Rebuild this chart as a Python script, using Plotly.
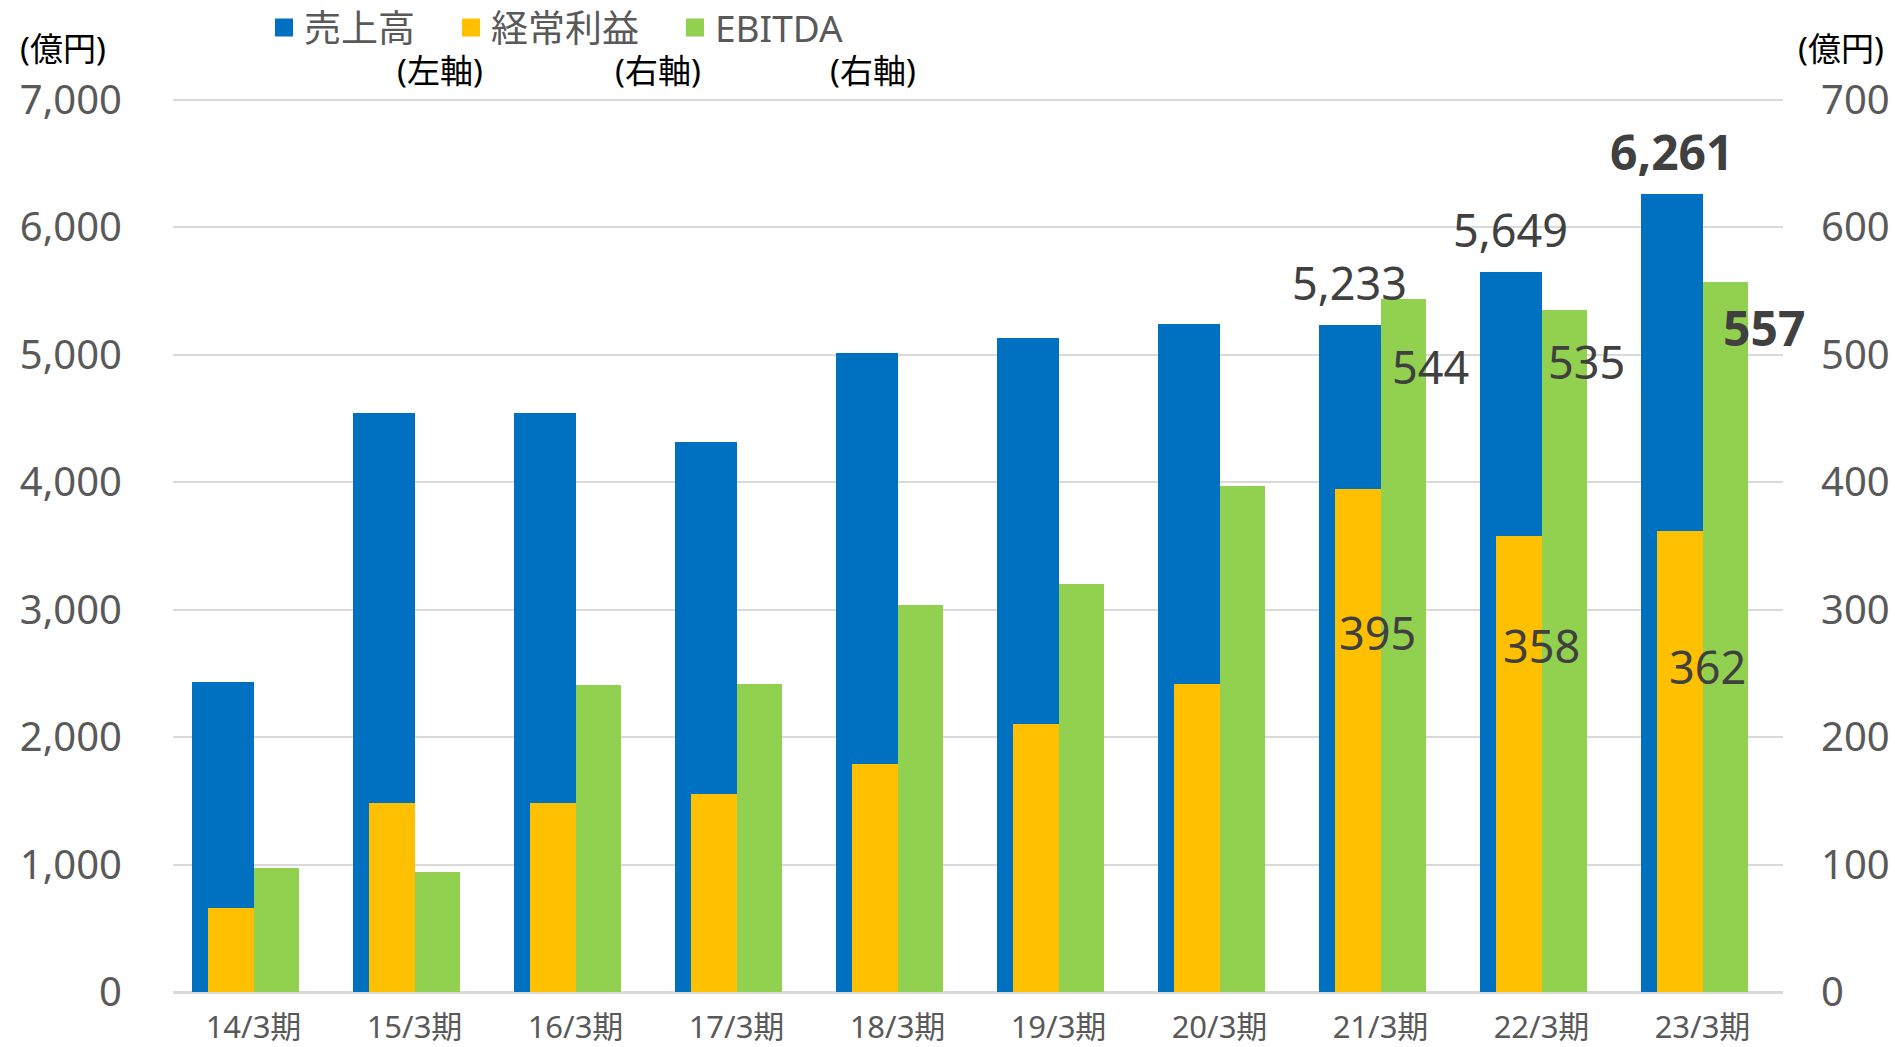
import plotly.graph_objects as go

# ---- data ----
categories = ["14/3期", "15/3期", "16/3期", "17/3期", "18/3期",
              "19/3期", "20/3期", "21/3期", "22/3期", "23/3期"]
sales = [2433, 4545, 4545, 4317, 5016, 5133, 5240, 5233, 5649, 6261]          # 売上高 (左軸)
ordinary_profit = [66, 148, 148, 155, 179, 210, 242, 395, 358, 362]            # 経常利益 (右軸)
ebitda = [97, 94, 241, 242, 304, 320, 397, 544, 535, 557]                      # EBITDA (右軸)
series_names = ["売上高", "経常利益", "EBITDA"]
axis_notes = ["(左軸)", "(右軸)", "(右軸)"]
unit_label = "(億円)"
left_ticks = [0, 1000, 2000, 3000, 4000, 5000, 6000, 7000]
right_ticks = [0, 100, 200, 300, 400, 500, 600, 700]
labeled_idx = [7, 8, 9]

# ---- style ----
W, H = 1895, 1047
ML, MR, MT, MB = 173, 112, 100, 55
PW, PH = W - ML - MR, H - MT - MB
FONT = "Noto Sans, Noto Sans CJK JP, sans-serif"
BLUE, ORANGE, GREEN = "#0070C0", "#FFC000", "#92D050"
COLORS = [BLUE, ORANGE, GREEN]
GRID = "#d9d9d9"
TICK_COLOR = "#595959"
LABEL_COLOR = "#404040"
x = list(range(len(categories)))


def px_x(p):
    return (p - ML) / PW


def px_y(p):
    return (MT + PH - p) / PH


fig = go.Figure()
fig.add_trace(go.Bar(x=x, y=sales, name=series_names[0], width=0.385, offset=-0.385,
                     marker=dict(color=BLUE, line=dict(width=0)), yaxis="y", showlegend=False))
fig.add_trace(go.Bar(x=x, y=ordinary_profit, name=series_names[1], width=0.28, offset=-0.28,
                     marker=dict(color=ORANGE, line=dict(width=0)), yaxis="y2", showlegend=False))
fig.add_trace(go.Bar(x=x, y=ebitda, name=series_names[2], width=0.28, offset=0,
                     marker=dict(color=GREEN, line=dict(width=0)), yaxis="y2", showlegend=False))

# legend entries (square keys)
for k, (nm, col) in enumerate(zip(series_names, COLORS)):
    fig.add_trace(go.Scatter(x=[None], y=[None], mode="markers", name=nm,
                             marker=dict(symbol="square", size=16, color=col,
                                         line=dict(width=2, color=col)),
                             legend="legend" if k == 0 else f"legend{k + 1}",
                             showlegend=True, hoverinfo="skip"))

annotations = []
# unit labels
for cx in (63, 1841):
    annotations.append(dict(x=px_x(cx), y=px_y(48), xref="paper", yref="paper", text=unit_label,
                            showarrow=False, font=dict(family=FONT, size=33, color="#000000"),
                            xanchor="center", yanchor="middle"))
# axis notes under legend
for cx, t in zip((440, 658, 873), axis_notes):
    annotations.append(dict(x=px_x(cx), y=px_y(70), xref="paper", yref="paper", text=t,
                            showarrow=False, font=dict(family=FONT, size=33, color="#000000"),
                            xanchor="center", yanchor="middle"))

LBL = 45
LBL_B = 48
# sales labels (above blue bars)
for i in labeled_idx:
    bold = i == len(categories) - 1
    txt = f"{sales[i]:,}"
    annotations.append(dict(x=i - 0.1925, y=sales[i], xref="x", yref="y",
                            text=f"<b>{txt}</b>" if bold else txt, showarrow=False,
                            yshift=43, font=dict(family=FONT, size=LBL_B if bold else LBL, color=LABEL_COLOR),
                            xanchor="center", yanchor="middle"))
# ordinary profit labels
op_shift = [(-3, -144), (0, -110), (5, -136)]
for (dx, dy), i in zip(op_shift, labeled_idx):
    annotations.append(dict(x=i, y=ordinary_profit[i], xref="x", yref="y2",
                            text=f"{ordinary_profit[i]:,}", showarrow=False,
                            xshift=dx, yshift=dy,
                            font=dict(family=FONT, size=LBL, color=LABEL_COLOR),
                            xanchor="center", yanchor="middle"))
# ebitda labels
eb_shift = [(27, -68), (22, -51), (39, -45)]
for (dx, dy), i in zip(eb_shift, labeled_idx):
    bold = i == len(categories) - 1
    txt = f"{ebitda[i]:,}"
    annotations.append(dict(x=i + 0.14, y=ebitda[i], xref="x", yref="y2",
                            text=f"<b>{txt}</b>" if bold else txt, showarrow=False,
                            xshift=dx, yshift=dy,
                            font=dict(family=FONT, size=LBL_B if bold else LBL, color=LABEL_COLOR),
                            xanchor="center", yanchor="middle"))

legend_common = dict(orientation="h", xref="container", yref="container",
                     yanchor="middle", xanchor="left", bgcolor="rgba(0,0,0,0)",
                     itemsizing="trace",
                     font=dict(family=FONT, size=37, color=TICK_COLOR))
leg_y = 1 - 28 / H

# top gridline (Plotly skips the grid line lying exactly on the plot edge)
shapes = [dict(type="line", xref="paper", yref="paper", x0=0, x1=1, y0=1, y1=1,
               line=dict(color=GRID, width=2), layer="below")]

fig.update_layout(
    width=W, height=H,
    margin=dict(l=ML, r=MR, t=MT, b=MB, autoexpand=False),
    paper_bgcolor="white", plot_bgcolor="white",
    barmode="overlay", bargap=0,
    font=dict(family=FONT, color=TICK_COLOR),
    showlegend=True,
    legend=dict(x=(283 - 19) / W, y=leg_y, **legend_common),
    legend2=dict(x=(470 - 19) / W, y=leg_y, **legend_common),
    legend3=dict(x=(694 - 19) / W, y=leg_y, **legend_common),
    xaxis=dict(range=[-0.5, len(categories) - 0.5], tickvals=x, ticktext=categories,
               showgrid=False, zeroline=False, showline=False,
               ticks="outside", ticklen=8, tickcolor="rgba(0,0,0,0)",
               tickfont=dict(family=FONT, size=31, color=TICK_COLOR), automargin=False),
    yaxis=dict(range=[0, 7000], tickvals=left_ticks, tickformat=",",
               showgrid=True, gridcolor=GRID, gridwidth=2,
               zeroline=True, zerolinecolor=GRID, zerolinewidth=3, showline=False,
               ticks="outside", ticklen=42, tickcolor="rgba(0,0,0,0)",
               tickfont=dict(family=FONT, size=40, color=TICK_COLOR), automargin=False),
    yaxis2=dict(range=[0, 700], tickvals=right_ticks, overlaying="y", side="right",
                showgrid=False, zeroline=False, showline=False,
                ticks="outside", ticklen=29, tickcolor="rgba(0,0,0,0)",
                tickfont=dict(family=FONT, size=40, color=TICK_COLOR), automargin=False),
    shapes=shapes,
    annotations=annotations,
)

fig.write_html("out.html", config={"displayModeBar": False},
               post_script="document.body.style.margin='0px';")
